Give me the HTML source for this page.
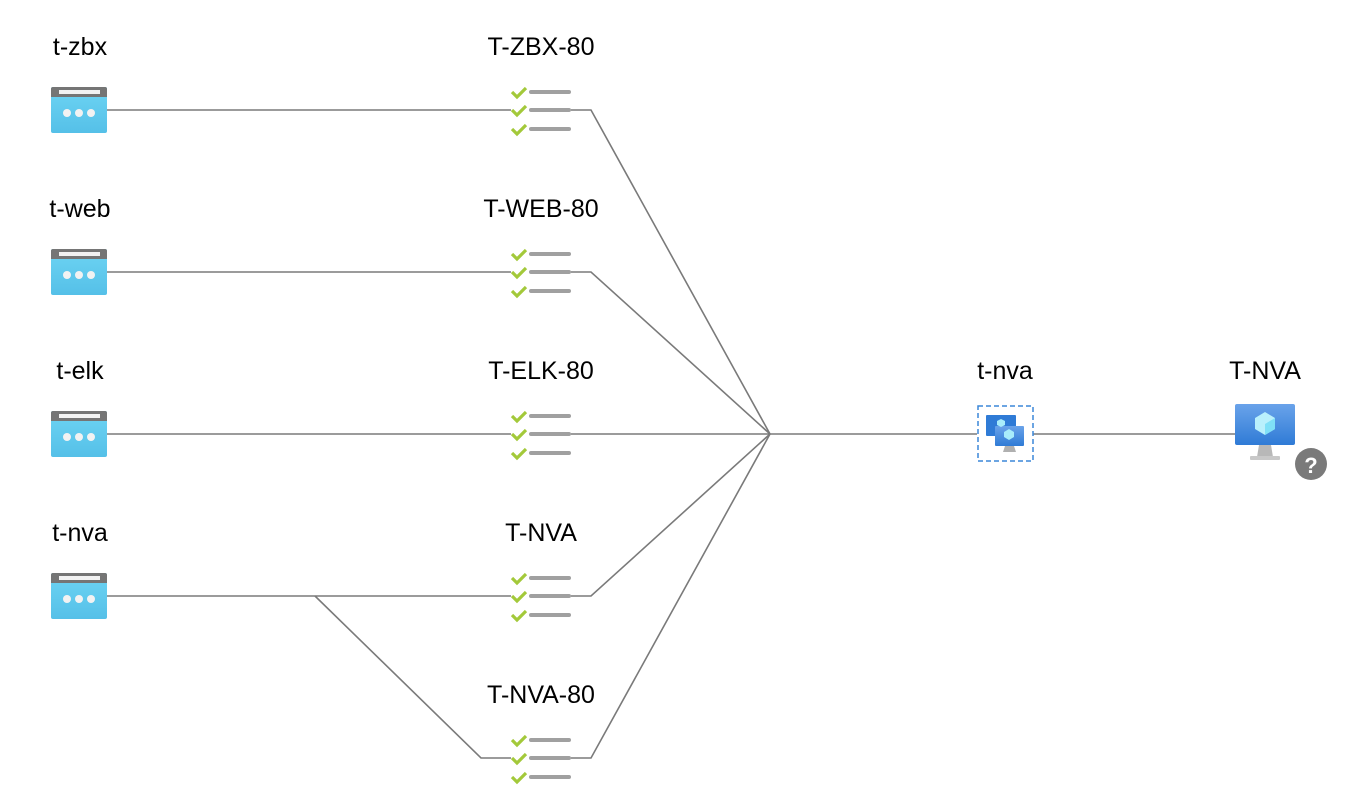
<!DOCTYPE html>
<html><head><meta charset="utf-8"><style>
html,body{margin:0;padding:0;background:#fff;}
svg{display:block;}
text{font-family:"Liberation Sans",sans-serif;font-size:25px;fill:#000;text-anchor:middle;}
</style></head><body>
<svg width="1356" height="800" viewBox="0 0 1356 800" xmlns="http://www.w3.org/2000/svg">
<defs>
<linearGradient id="sb" x1="0" y1="0" x2="0" y2="1"><stop offset="0" stop-color="#6dd4f3"/><stop offset="1" stop-color="#55c0e8"/></linearGradient>
<linearGradient id="mb" x1="0" y1="0" x2="0" y2="1"><stop offset="0" stop-color="#6aa3ea"/><stop offset="1" stop-color="#2f7bd6"/></linearGradient>
<g id="srv">
<rect x="0" y="0" width="56" height="46" rx="2" fill="url(#sb)"/>
<path d="M2 0h52a2 2 0 0 1 2 2v8H0V2a2 2 0 0 1 2-2z" fill="#757575"/>
<rect x="8" y="3" width="41" height="4" fill="#f2f2f2"/>
<circle cx="16" cy="26" r="4" fill="#f2f2f2"/><circle cx="28" cy="26" r="4" fill="#f2f2f2"/><circle cx="40" cy="26" r="4" fill="#f2f2f2"/>
</g>
<g id="chk"><path d="M0 -1l5 5l9-9" fill="none" stroke="#a3c93a" stroke-width="3.2"/></g>
<g id="lst">
<use href="#chk" x="512" y="-17"/><use href="#chk" x="512" y="1"/><use href="#chk" x="512" y="20"/>
<g stroke="#a0a0a0" stroke-width="4" stroke-linecap="round">
<line x1="531" y1="-18" x2="569" y2="-18"/><line x1="531" y1="0" x2="569" y2="0"/><line x1="531" y1="19" x2="569" y2="19"/>
</g>
</g>
</defs>
<g stroke="#7a7a7a" stroke-width="1.6" fill="none">
<path d="M107 110H511M571 110H591L770 434"/>
<path d="M107 272H511M571 272H591L770 434"/>
<path d="M107 434H511M571 434H977"/>
<path d="M107 596H511M571 596H591L770 434"/>
<path d="M315 596L481 758H511M571 758H591L770 434"/>
<path d="M1033 434H1235"/>
</g>
<use href="#srv" x="51" y="87"/><use href="#srv" x="51" y="249"/><use href="#srv" x="51" y="411"/><use href="#srv" x="51" y="573"/>
<use href="#lst" x="0" y="110"/><use href="#lst" x="0" y="272"/><use href="#lst" x="0" y="434"/><use href="#lst" x="0" y="596"/><use href="#lst" x="0" y="758"/>
<text x="80" y="55">t-zbx</text><text x="80" y="217">t-web</text><text x="80" y="379">t-elk</text><text x="80" y="541">t-nva</text>
<text x="541" y="55">T-ZBX-80</text><text x="541" y="217">T-WEB-80</text><text x="541" y="379">T-ELK-80</text><text x="541" y="541">T-NVA</text><text x="541" y="703">T-NVA-80</text>
<text x="1005" y="379">t-nva</text><text x="1265" y="379">T-NVA</text>
<rect x="978" y="406" width="55" height="55" fill="none" stroke="#3b87d8" stroke-width="1.5" stroke-dasharray="5,3"/>
<rect x="986" y="415" width="30" height="21" rx="1" fill="#2f7bd6"/>
<rect x="995" y="426" width="29" height="20" rx="1" fill="url(#mb)"/>
<path d="M1005 446h9l2 6h-13z" fill="#b0b0b0"/>
<path d="M1009 429l5 3v5l-5 3l-5-3v-5z" fill="#a8ecfb"/>
<path d="M1001 419l4 2v4l-4 2l-4-2v-4z" fill="#a8ecfb"/>
<rect x="1235" y="404" width="60" height="41" rx="2" fill="url(#mb)"/>
<path d="M1265 412l10 6v11l-10 6l-10-6v-11z" fill="#b9f0fc"/><path d="M1265 424l10-6v11l-10 6z" fill="#7fe0f7"/>
<path d="M1259 445h12l2 12h-16z" fill="#b8b8b8"/><rect x="1250" y="456" width="30" height="4" rx="1" fill="#c8c8c8"/>
<circle cx="1311" cy="464" r="16" fill="#7a7a7a"/>
<text x="1311" y="473" style="font-size:22px;font-weight:bold;fill:#fff">?</text>
</svg>
</body></html>
